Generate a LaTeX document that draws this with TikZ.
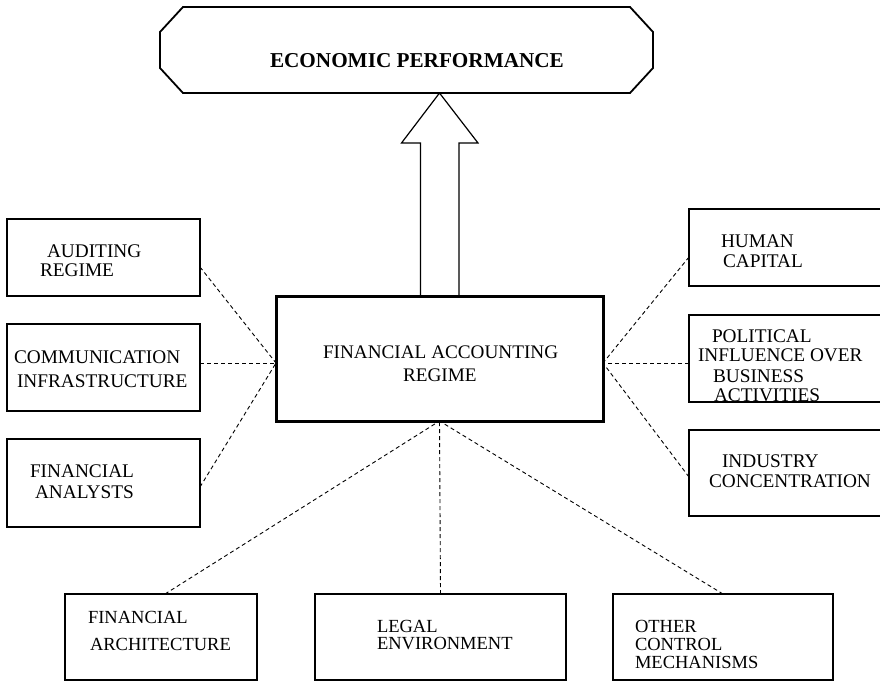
\documentclass[tikz,border=0pt]{standalone}
\usepackage{fontspec}
\setmainfont{Liberation Serif}
\begin{document}
\begin{tikzpicture}[x=1pt,y=-1pt,
  box/.style={draw, rectangle, line width=1.2pt, inner sep=0pt, outer sep=0pt},
  lbl/.style={inner sep=0pt, outer sep=0pt, anchor=base west, font=\fontsize{18.5}{20}\selectfont},
  slbl/.style={lbl, font=\fontsize{19.3}{21}\selectfont},
  clbl/.style={lbl, font=\fontsize{19.2}{21}\selectfont},
  conn/.style={dash pattern=on 4pt off 3pt, line width=0.9pt}]
\useasboundingbox (0,0) rectangle (880,682);
\clip (0,0) rectangle (880,682);
\fill[white] (0,0) rectangle (880,682);

% title octagon
\draw[line width=1.8pt] (183,7) -- (630,7) -- (653,32) -- (653,68) -- (630,93)
  -- (183,93) -- (160,68) -- (160,32) -- cycle;
\node[lbl, font=\fontsize{21.2}{23}\selectfont\bfseries] (ep) at (270,68) {ECONOMIC PERFORMANCE};
\coordinate (epb) at (439.5,93);

% central box
\node[box, line width=3pt, minimum width=327pt, minimum height=125pt] (fac) at (439.5,358.5) {};
\node[clbl] (fac1) at (323,358) {FINANCIAL ACCOUNTING};
\node[clbl] (fac2) at (403,381) {REGIME};

% block arrow
\draw[line width=1.2pt] (epb) -- (478,143) -- (459,143) -- (459,296) -- (420.5,296)
  -- (420.5,143) -- (401.5,143) -- cycle;

% left boxes
\node[box, minimum width=193pt, minimum height=77pt] (aud) at (103.5,257.5) {};
\node[slbl] (aud1) at (47,257) {AUDITING};
\node[slbl] (aud2) at (40,276) {REGIME};

\node[box, minimum width=193pt, minimum height=87pt] (com) at (103.5,367.5) {};
\node[slbl] (com1) at (14,363) {COMMUNICATION};
\node[slbl] (com2) at (17,387) {INFRASTRUCTURE};

\node[box, minimum width=193pt, minimum height=88pt] (fan) at (103.5,483) {};
\node[slbl] (fan1) at (30,477) {FINANCIAL};
\node[slbl] (fan2) at (35,498) {ANALYSTS};

% right boxes
\node[box, minimum width=196pt, minimum height=77pt] (hum) at (787,247.5) {};
\node[slbl] (hum1) at (721,247) {HUMAN};
\node[slbl] (hum2) at (723,267) {CAPITAL};

\node[box, minimum width=196pt, minimum height=87pt] (pol) at (787,358.5) {};
\node[slbl] (pol1) at (712,342) {POLITICAL};
\node[slbl] (pol2) at (698,361) {INFLUENCE OVER};
\node[slbl] (pol3) at (713,382) {BUSINESS};
\node[slbl] (pol4) at (714,401) {ACTIVITIES};

\node[box, minimum width=196pt, minimum height=86pt] (ind) at (787,473) {};
\node[slbl] (ind1) at (722,467) {INDUSTRY};
\node[slbl] (ind2) at (709,487) {CONCENTRATION};

% bottom boxes
\node[box, minimum width=192pt, minimum height=86pt] (far) at (161,637) {};
\node[lbl] (far1) at (88,623) {FINANCIAL};
\node[lbl] (far2) at (90,650) {ARCHITECTURE};

\node[box, minimum width=251pt, minimum height=86pt] (leg) at (440.5,637) {};
\node[lbl] (leg1) at (377,632) {LEGAL};
\node[lbl] (leg2) at (377,649) {ENVIRONMENT};

\node[box, minimum width=220pt, minimum height=86pt] (oth) at (723,637) {};
\node[lbl] (oth1) at (635,632) {OTHER};
\node[lbl] (oth2) at (635,650) {CONTROL};
\node[lbl] (oth3) at (635,668) {MECHANISMS};

% connectors
\draw[conn] ([yshift=-9.5pt]aud.east) -- ([yshift=-4.5pt]fac.west);
\draw[conn] ([yshift=4.5pt]com.east) -- ([yshift=-4.5pt]fac.west);
\draw[conn] ([yshift=-4pt]fan.east) -- ([yshift=-4.5pt]fac.west);
\draw[conn] ([yshift=-9.5pt]hum.west) -- ([yshift=-4.5pt]fac.east);
\draw[conn] ([yshift=-4.5pt]pol.west) -- ([yshift=-4.5pt]fac.east);
\draw[conn] ([yshift=-4pt]ind.west) -- ([yshift=-4.5pt]fac.east);
\draw[conn] ([xshift=4pt]far.north) -- (fac.south);
\draw[conn] (leg.north) -- (fac.south);
\draw[conn] (oth.north) -- (fac.south);
\end{tikzpicture}
\end{document}
